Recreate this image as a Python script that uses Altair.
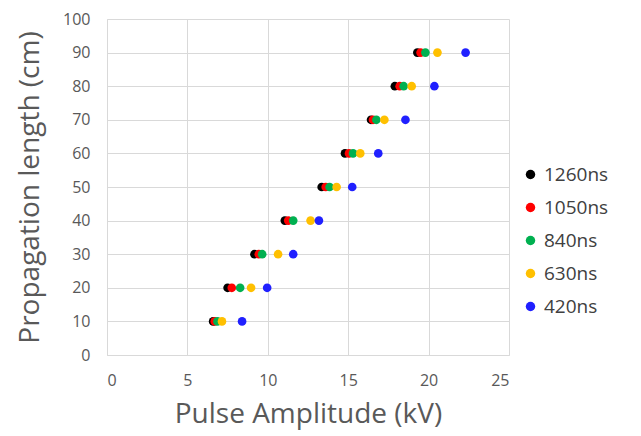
import altair as alt
import pandas as pd

lengths = [10, 20, 30, 40, 50, 60, 70, 80, 90]
series = ["1260ns", "1050ns", "840ns", "630ns", "420ns"]
colors = ["#000000", "#FF0000", "#00B050", "#FFC000", "#2020FF"]
amp_1260 = [6.6, 7.5, 9.17, 11.06, 13.35, 14.8, 16.42, 17.9, 19.3]
amp_1050 = [6.7, 7.76, 9.44, 11.27, 13.6, 15.05, 16.54, 18.2, 19.5]
amp_840 = [6.87, 8.28, 9.65, 11.58, 13.84, 15.3, 16.75, 18.45, 19.8]
amp_630 = [7.15, 8.96, 10.64, 12.66, 14.28, 15.75, 17.25, 18.95, 20.55]
amp_420 = [8.4, 9.96, 11.58, 13.18, 15.25, 16.87, 18.56, 20.36, 22.3]

rows = []
for name, vals in zip(series, [amp_1260, amp_1050, amp_840, amp_630, amp_420]):
    for L, v in zip(lengths, vals):
        rows.append({"series": name, "amp": v, "len": L})
df = pd.DataFrame(rows)

chart = alt.Chart(df).mark_circle(size=75, opacity=1).encode(
    x=alt.X("amp:Q", title="Pulse Amplitude (kV)",
            scale=alt.Scale(domain=[0, 25], nice=False),
            axis=alt.Axis(values=[0, 5, 10, 15, 20, 25], ticks=False, domain=True,
                          domainColor="#D9D9D9", gridColor="#D9D9D9",
                          labelColor="#595959", labelFontSize=16, labelPadding=17,
                          titleColor="#595959", titleFontSize=28, titleFontWeight="normal",
                          titlePadding=12, labelFont="Open Sans", titleFont="Open Sans")),
    y=alt.Y("len:Q", title="Propagation length (cm)",
            scale=alt.Scale(domain=[0, 100], nice=False),
            axis=alt.Axis(values=list(range(0, 101, 10)), ticks=False, domain=True,
                          domainColor="#D9D9D9", gridColor="#D9D9D9",
                          labelColor="#595959", labelFontSize=16, labelPadding=17,
                          titleColor="#595959", titleFontSize=28, titleFontWeight="normal",
                          titlePadding=18, labelFont="Open Sans", titleFont="Open Sans")),
    color=alt.Color("series:N", sort=series,
                    scale=alt.Scale(domain=series, range=colors),
                    legend=alt.Legend(title=None, labelFontSize=19, labelColor="#404040",
                                      labelFont="Open Sans", symbolType="circle",
                                      symbolSize=90, rowPadding=13,
                                      orient="none", legendX=414, legendY=146,
                                      symbolStrokeWidth=0)),
    order=alt.Order("ord:Q"),
).transform_calculate(
    ord="indexof(['1260ns','1050ns','840ns','630ns','420ns'], datum.series)"
).properties(width=402, height=336,
             padding={"left": 8, "top": 3, "right": 5, "bottom": 4}
).configure_view(stroke=None)

chart.save("out.html", embed_options={"renderer": "svg", "actions": False})
